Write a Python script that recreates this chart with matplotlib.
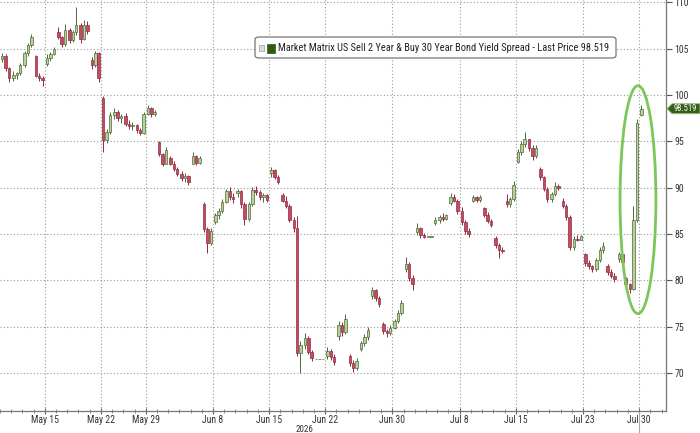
import matplotlib
matplotlib.use("Agg")
import matplotlib.pyplot as plt
import matplotlib.transforms as mtransforms
from matplotlib import font_manager
from matplotlib.patches import Ellipse, FancyBboxPatch, Rectangle, Polygon
import numpy as np

# Bloomberg charts use a narrow face; take the narrowest one that is installed
entries = font_manager.fontManager.ttflist
names = {f.name for f in entries}
if 'Liberation Sans Narrow' in names:
    base_font = 'Liberation Sans Narrow'
elif 'Roboto Condensed' in names:
    base_font = 'Roboto Condensed'
else:
    base_font = 'DejaVu Sans'
    if any(f.name == 'DejaVu Sans' and f.stretch == 'condensed' for f in entries):
        plt.rcParams['font.stretch'] = 'condensed'
plt.rcParams['font.family'] = [base_font, 'DejaVu Sans']

# trading-day index of each intraday bar (0 = Mon May 11 2026)
bar_day = [
    0, 0, 0, 1, 1, 1, 2, 2, 2, 3, 3, 3, 4, 4, 4, 5, 5, 5, 6, 6, 6, 7, 7, 7,
    8, 8, 8, 9, 9, 9, 10, 10, 10, 11, 11, 11, 12, 12, 12, 13, 13, 13,
    14, 14, 14, 15, 15, 15, 16, 16, 16, 17, 17, 17, 18, 18, 18, 19, 19, 19,
    20, 20, 20, 21, 21, 21, 22, 22, 22, 23, 23, 23, 24, 24, 24, 25, 25, 25,
    26, 26, 26, 27, 27, 27, 28, 28, 28, 29, 29, 29, 30, 30, 30, 31, 31, 31,
    32, 32, 32, 33, 33, 33, 34, 34, 34, 35, 35, 35, 36, 36, 36, 37, 37, 37,
    38, 38, 38, 39, 39, 39, 40, 40, 40, 41, 41, 41, 42, 42, 42, 43, 43, 43,
    44, 44, 44, 45, 45, 45, 46, 46, 46, 47, 47, 47, 48, 48, 48, 49, 49, 49,
    50, 50, 50, 51, 51, 51, 52, 52, 52, 53, 53, 53, 54, 54, 54, 55, 55, 55,
    56, 56, 56, 57,
]

opens = [
    103.9, 104.2, 102.9, 101.8, 102.2, 102.4, 103.2, 104.5, 105.4, 104.2, 102.1, 101.8,
    103.3, 104.0, 104.4, 106.8, 106.3, 105.5, 107.0, 105.9, 106.8, 107.5, 106.0, 107.6,
    103.8, 103.2, 104.5, 99.7, 95.1, 96.0, 97.8, 98.2, 97.5, 97.7, 96.9, 96.6,
    96.8, 96.2, 95.9, 98.0, 98.6, 97.9, 94.9, 93.6, 92.6, 93.2, 92.6, 92.0,
    91.5, 91.0, 91.3, 92.6, 93.4, 92.7, 88.2, 85.5, 84.0, 86.3, 87.0, 87.5,
    88.5, 89.6, 89.0, 89.4, 89.6, 88.2, 86.6, 88.2, 89.8, 89.5, 89.0, 89.2,
    91.6, 91.9, 91.2, 89.2, 88.6, 88.0, 86.5, 85.6, 72.2, 73.0, 73.8, 72.3,
    71.5, 71.5, 71.5, 71.8, 72.4, 71.7, 74.0, 75.2, 74.4, 71.8, 71.1, 70.5,
    72.6, 73.2, 73.9, 78.3, 79.0, 78.1, 75.3, 74.5, 74.3, 74.9, 75.6, 76.5,
    81.2, 81.8, 80.3, 85.2, 85.6, 84.9, 84.7, 84.7, 86.2, 86.5, 86.8, 86.6,
    88.3, 89.0, 88.6, 87.5, 86.3, 85.3, 88.6, 89.0, 88.7, 87.8, 87.0, 86.4,
    84.6, 83.8, 83.3, 88.6, 88.2, 88.8, 92.8, 93.8, 94.7, 95.2, 94.3, 93.4,
    92.0, 91.1, 89.9, 88.8, 89.3, 90.2, 88.6, 88.0, 86.8, 83.6, 84.5, 84.4,
    82.8, 81.9, 81.5, 81.2, 82.2, 83.3, 81.5, 80.9, 80.5, 82.3, 82.8, 80.3,
    79.6, 79.1, 86.5, 97.8,
]

highs = [
    104.5, 104.4, 103.0, 102.6, 102.5, 103.4, 104.8, 105.6, 106.6, 104.3, 102.4, 102.0,
    104.4, 104.6, 105.2, 107.3, 106.4, 107.7, 107.2, 107.0, 109.5, 107.8, 108.1, 108.0,
    104.1, 104.8, 104.6, 99.9, 96.3, 98.2, 98.6, 98.4, 98.0, 98.1, 97.3, 97.1,
    96.9, 96.4, 98.2, 98.9, 98.7, 98.4, 95.0, 93.7, 94.4, 93.4, 92.9, 92.2,
    91.8, 91.6, 91.4, 93.8, 93.5, 93.4, 88.4, 85.8, 85.6, 87.3, 87.8, 88.8,
    89.9, 90.1, 89.4, 89.9, 89.7, 88.4, 88.5, 90.1, 90.2, 89.7, 89.4, 89.3,
    92.2, 92.0, 91.4, 89.4, 89.1, 88.2, 86.8, 86.9, 73.4, 74.3, 74.0, 72.5,
    71.5, 71.5, 71.5, 72.8, 72.6, 72.0, 75.6, 75.5, 76.4, 72.0, 71.4, 71.6,
    73.5, 74.2, 75.0, 79.3, 79.1, 78.3, 75.5, 74.8, 75.2, 75.8, 76.8, 77.9,
    82.5, 82.0, 80.6, 86.2, 85.8, 85.1, 84.7, 84.7, 86.8, 87.0, 87.3, 87.2,
    89.4, 89.3, 88.8, 87.9, 86.5, 85.6, 89.2, 89.1, 89.2, 87.9, 87.4, 86.6,
    84.8, 84.0, 83.6, 89.3, 89.0, 90.7, 94.2, 95.0, 96.0, 95.3, 94.6, 94.6,
    92.2, 91.3, 90.1, 89.5, 90.6, 90.4, 88.9, 88.2, 87.0, 84.8, 84.9, 84.9,
    83.0, 82.2, 81.7, 82.4, 83.6, 84.1, 81.8, 81.2, 80.8, 83.1, 82.9, 80.4,
    79.7, 88.0, 97.4, 98.9,
]

lows = [
    103.6, 102.6, 101.4, 101.5, 101.7, 102.2, 103.0, 104.2, 105.2, 101.9, 101.5, 101.0,
    103.1, 103.7, 104.3, 106.0, 105.2, 105.3, 105.6, 105.7, 106.5, 105.6, 105.9, 106.6,
    102.8, 103.0, 101.4, 93.9, 94.8, 95.8, 97.4, 97.2, 97.0, 96.6, 96.3, 96.2,
    95.9, 95.7, 95.8, 97.8, 97.6, 97.7, 93.4, 92.3, 92.5, 92.4, 91.8, 91.3,
    90.7, 90.6, 90.3, 92.5, 92.4, 92.6, 85.2, 83.0, 83.8, 86.1, 86.6, 87.3,
    88.3, 88.7, 88.3, 89.0, 87.8, 86.0, 86.4, 88.0, 89.2, 88.7, 88.5, 88.4,
    91.2, 90.9, 90.4, 88.4, 87.8, 86.3, 85.2, 71.8, 70.0, 72.6, 72.0, 71.3,
    71.5, 71.5, 71.5, 71.5, 71.4, 70.9, 73.6, 74.0, 74.2, 70.8, 70.1, 70.3,
    72.4, 72.9, 73.6, 78.0, 77.8, 77.1, 74.2, 73.9, 74.1, 74.7, 75.4, 76.3,
    80.9, 79.9, 79.0, 84.9, 84.6, 84.6, 84.7, 84.7, 86.0, 86.2, 86.4, 86.5,
    88.1, 88.4, 87.2, 86.0, 85.0, 84.7, 88.4, 88.5, 88.5, 86.8, 86.2, 85.8,
    83.5, 82.4, 83.0, 87.9, 87.9, 88.6, 92.7, 93.5, 94.4, 94.0, 93.0, 93.2,
    90.8, 89.6, 88.4, 88.5, 89.1, 89.8, 87.8, 86.5, 83.3, 83.3, 84.2, 84.3,
    81.6, 81.2, 80.9, 81.0, 82.0, 83.0, 80.6, 80.2, 79.8, 82.0, 81.7, 79.3,
    78.6, 79.0, 86.3, 97.7,
]

closes = [
    104.2, 102.9, 101.8, 102.2, 102.4, 103.2, 104.5, 105.4, 106.3, 102.1, 101.8, 101.6,
    104.0, 104.4, 105.0, 106.3, 105.5, 107.0, 105.9, 106.8, 107.5, 106.0, 107.6, 106.9,
    103.2, 104.5, 101.8, 95.1, 96.0, 97.8, 98.2, 97.5, 97.7, 96.9, 96.6, 96.8,
    96.2, 95.9, 98.0, 98.6, 97.9, 98.2, 93.6, 92.6, 94.1, 92.6, 92.0, 91.5,
    91.0, 91.3, 90.6, 93.4, 92.7, 93.2, 85.5, 84.0, 85.3, 87.0, 87.5, 88.5,
    89.6, 89.0, 88.8, 89.6, 88.2, 86.6, 88.2, 89.8, 89.5, 89.0, 89.2, 88.7,
    91.9, 91.2, 90.6, 88.6, 88.0, 86.5, 85.6, 72.2, 73.0, 73.8, 72.3, 71.6,
    71.5, 71.5, 71.5, 72.4, 71.7, 71.2, 75.2, 74.4, 75.8, 71.1, 70.5, 71.3,
    73.2, 73.9, 74.6, 79.0, 78.1, 77.5, 74.5, 74.3, 74.9, 75.6, 76.5, 77.6,
    81.8, 80.3, 79.6, 85.6, 84.9, 84.7, 84.7, 84.7, 86.5, 86.8, 86.6, 87.0,
    89.0, 88.6, 87.5, 86.3, 85.3, 85.0, 89.0, 88.7, 89.0, 87.0, 86.4, 86.0,
    83.8, 83.3, 83.2, 88.2, 88.8, 90.3, 93.8, 94.7, 95.2, 94.3, 93.4, 94.3,
    91.1, 89.9, 88.8, 89.3, 90.2, 90.0, 88.0, 86.8, 83.6, 84.5, 84.4, 84.8,
    81.9, 81.5, 81.2, 82.2, 83.3, 83.7, 80.9, 80.5, 80.1, 82.8, 82.0, 79.6,
    79.1, 86.5, 97.0, 98.519,
]

tick_days = [4, 9, 13, 19, 24, 29, 35, 41, 46, 52, 57]
tick_labels = ["May 15", "May 22", "May 29", "Jun 8", "Jun 15", "Jun 22",
               "Jun 30", "Jul 8", "Jul 15", "Jul 23", "Jul 30"]
y_ticks = [70, 75, 80, 85, 90, 95, 100, 105, 110]
last_price = 98.519
series_name = "Market Matrix US Sell 2 Year & Buy 30 Year Bond Yield Spread - Last Price 98.519"

up_face, up_edge = '#b9cf9c', '#4d6a36'
dn_face, dn_edge = '#c64a62', '#8c2c40'

W, H = 700, 433
fig = plt.figure(figsize=(7, 4.33), dpi=100)
ax = fig.add_axes([0.0, 22 / H, 666 / W, 411 / H])

# place the bars of one session side by side inside its day slot
slot_offset = [0.2, 0.5, 0.8]
x = []
prev, k = None, 0
for d in bar_day:
    k = k + 1 if d == prev else 0
    prev = d
    x.append(d + slot_offset[k])
x = np.array(x)
o, h, l, c = map(np.array, (opens, highs, lows, closes))
up = c >= o

ax.vlines(x, l, h, colors=[up_edge if u else dn_edge for u in up], lw=0.7, zorder=2)
ax.bar(x, np.maximum(np.abs(c - o), 0.03), bottom=np.minimum(o, c), width=0.22,
       color=[up_face if u else dn_face for u in up],
       edgecolor=[up_edge if u else dn_edge for u in up], linewidth=0.5, zorder=3)

ax.set_xlim(0.46, 59.4)
ax.set_ylim(65.9, 110.25)

ax.set_xticks(tick_days)
ax.set_xticklabels(tick_labels)
ax.set_xticks(np.arange(0, 60), minor=True)
ax.tick_params(axis='x', which='major', direction='inout', length=5, labelsize=7,
               colors='#666666', labelcolor='#333333', pad=0.5)
ax.tick_params(axis='x', which='minor', direction='inout', length=3, colors='#777777')

ax.yaxis.tick_right()
ax.set_yticks(y_ticks)
ax.tick_params(axis='y', length=4, labelsize=7, colors='#555555', labelcolor='#333333', pad=2)

ax.grid(True, which='major', color='#9a9a9a', linestyle=(0, (1, 2)), linewidth=0.8)
ax.set_axisbelow(True)
for side in ('top', 'left'):
    ax.spines[side].set_visible(False)
for side in ('bottom', 'right'):
    ax.spines[side].set_color('#777777')
    ax.spines[side].set_linewidth(0.9)

trans = mtransforms.blended_transform_factory(ax.transData, ax.transAxes)
ax.text(27.2, -0.034, "2026", transform=trans, ha='center', va='top', fontsize=6.5, color='#333333')
ax.plot([57, 57], [0, -0.06], transform=trans, color='#aaaaaa', lw=0.8, clip_on=False)

# last price tag on the right axis (arrow shaped)
yp = ax.transData.transform((0, last_price))[1]
tag = [(667, yp), (672, yp + 5), (700, yp + 5), (700, yp - 5), (672, yp - 5)]
fig.patches.append(Polygon([(px / W, py / H) for px, py in tag], closed=True,
                           transform=fig.transFigure, facecolor='#35601a',
                           edgecolor='#9fbf88', linewidth=0.6, zorder=10))
fig.text(685 / W, yp / H, f"{last_price:.3f}", ha='center', va='center', fontsize=6.2,
         color='white', zorder=11)

# highlight of the final spike
ax.add_patch(Ellipse((56.9, 88.7), width=3.2, height=24.6, fill=False,
                     edgecolor='#7cc65a', lw=2, zorder=5))

# legend box
fig.patches.append(FancyBboxPatch((255 / W, 1 - 58 / H), 361 / W, 21 / H,
                                  boxstyle='round,pad=0,rounding_size=0.006',
                                  transform=fig.transFigure, facecolor='white',
                                  edgecolor='#777777', linewidth=0.9, zorder=10))
fig.patches.append(Rectangle((259 / W, 1 - 51 / H), 5 / W, 6 / H,
                             transform=fig.transFigure, facecolor='#dddddd',
                             edgecolor='#999999', linewidth=0.5, zorder=11))
fig.patches.append(Rectangle((267 / W, 1 - 53 / H), 8 / W, 9 / H,
                             transform=fig.transFigure, facecolor='#2f5a12',
                             edgecolor='#2f5a12', linewidth=0.5, zorder=11))
legend_text = fig.text(278 / W, 1 - 48 / H, series_name, ha='left', va='center',
                       fontsize=7.5, color='#222222', zorder=12)
renderer = fig.canvas.get_renderer()
tw = legend_text.get_window_extent(renderer).width
legend_text.set_fontsize(7.5 * min(1.0, 333 / tw))

fig.savefig("out.png", dpi=100)
